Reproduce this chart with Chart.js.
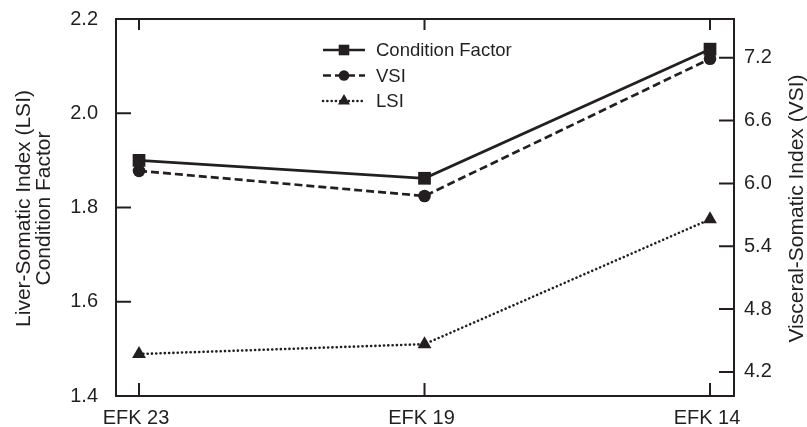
<!DOCTYPE html>
<html>
<head>
<meta charset="utf-8">
<script src="https://cdn.jsdelivr.net/npm/chart.js@4"></script>
<style>
  html, body { margin: 0; padding: 0; background: #fff; }
</style>
</head>
<body>
<canvas id="chart" width="807" height="427"></canvas>
<script>
// data
const categories = ["EFK 23", "EFK 19", "EFK 14"];
const conditionFactor = [1.90, 1.862, 2.136];
const vsi = [6.12, 5.88, 7.19];
const lsi = [1.489, 1.51, 1.775];
const leftTicks = [1.4, 1.6, 1.8, 2.0, 2.2];
const rightTicks = [4.2, 4.8, 5.4, 6.0, 6.6, 7.2];
const leftTitle = ["Liver-Somatic Index (LSI)", "Condition Factor"];
const rightTitle = "Visceral-Somatic Index (VSI)";

const ink = "#231f20";
const family = "'Liberation Sans', Arial, sans-serif";

function pts(values) {
  return values.map((v, i) => ({ x: i, y: v }));
}

// keep the plot box where the reference has it
function noPad(s) {
  s.paddingTop = 0;
  s.paddingBottom = 0;
  s.paddingLeft = 0;
  s.paddingRight = 0;
}

function drawMarker(ctx, style, x, y, r) {
  ctx.beginPath();
  if (style === "rect") {
    const s = r * Math.SQRT1_2;
    ctx.rect(x - s, y - s, 2 * s, 2 * s);
  } else if (style === "circle") {
    ctx.arc(x, y, r, 0, Math.PI * 2);
  } else {
    ctx.moveTo(x, y - r);
    ctx.lineTo(x + r * Math.sin(Math.PI / 3), y + r / 2);
    ctx.lineTo(x - r * Math.sin(Math.PI / 3), y + r / 2);
    ctx.closePath();
  }
  ctx.fill();
}

// frame, inward ticks, axis titles and the line+marker legend
const frameAndLegend = {
  id: "frameAndLegend",
  afterDraw(chart) {
    const ctx = chart.ctx;
    const a = chart.chartArea;
    ctx.save();
    ctx.strokeStyle = ink;
    ctx.lineWidth = 2;
    ctx.setLineDash([]);
    ctx.strokeRect(a.left, a.top, a.right - a.left, a.bottom - a.top);

    ctx.beginPath();
    const y = chart.scales.y;
    y.ticks.forEach((t) => {
      const p = y.getPixelForValue(t.value);
      ctx.moveTo(a.left, p);
      ctx.lineTo(a.left + 15, p);
    });
    const y1 = chart.scales.y1;
    y1.ticks.forEach((t) => {
      const p = y1.getPixelForValue(t.value);
      ctx.moveTo(a.right - 15, p);
      ctx.lineTo(a.right, p);
    });
    const x = chart.scales.x;
    x.ticks.forEach((t) => {
      const p = x.getPixelForValue(t.value);
      ctx.moveTo(p, a.bottom);
      ctx.lineTo(p, a.bottom - 13);
      ctx.moveTo(p, a.top);
      ctx.lineTo(p, a.top + 11);
    });
    ctx.stroke();

    // axis titles, both reading bottom to top
    const midY = (a.top + a.bottom) / 2 + 1;
    ctx.fillStyle = ink;
    ctx.font = "21px " + family;
    ctx.textAlign = "center";
    ctx.textBaseline = "middle";
    [[24, leftTitle[0]], [44, leftTitle[1]], [797, rightTitle]].forEach(([tx, txt]) => {
      ctx.save();
      ctx.translate(tx, midY);
      ctx.rotate(-Math.PI / 2);
      ctx.fillText(txt, 0, 0);
      ctx.restore();
    });

    // legend
    const x0 = 323, x1 = 365, xm = 344, xt = 376;
    const rows = [50, 75.5, 101];
    ctx.font = "18.5px " + family;
    ctx.textAlign = "left";
    chart.data.datasets.forEach((ds, i) => {
      const yy = rows[i];
      ctx.beginPath();
      ctx.lineWidth = ds.borderWidth;
      ctx.lineCap = ds.borderCapStyle || "butt";
      ctx.setLineDash(ds.borderDash || []);
      ctx.moveTo(x0, yy);
      ctx.lineTo(x1, yy);
      ctx.stroke();
      ctx.setLineDash([]);
      drawMarker(ctx, ds.pointStyle, xm, yy, ds.legendRadius);
      ctx.fillText(ds.label, xt, yy + 1);
    });
    ctx.restore();
  }
};

const ctx = document.getElementById("chart").getContext("2d");

const chart = new Chart(ctx, {
  type: "line",
  data: {
    datasets: [
      {
        label: "Condition Factor",
        data: pts(conditionFactor),
        yAxisID: "y",
        borderColor: ink,
        backgroundColor: ink,
        borderWidth: 2.7,
        pointStyle: "rect",
        pointRadius: 9,
        legendRadius: 7.5,
        pointBorderWidth: 0
      },
      {
        label: "VSI",
        data: pts(vsi),
        yAxisID: "y1",
        borderColor: ink,
        backgroundColor: ink,
        borderWidth: 2.7,
        borderDash: [8, 4],
        pointStyle: "circle",
        pointRadius: 6.3,
        legendRadius: 5.3,
        pointBorderWidth: 0
      },
      {
        label: "LSI",
        data: pts(lsi),
        yAxisID: "y",
        borderColor: ink,
        backgroundColor: ink,
        borderWidth: 2.6,
        borderDash: [0.1, 4.2],
        borderCapStyle: "round",
        pointStyle: "triangle",
        pointRadius: 8,
        legendRadius: 7,
        pointBorderWidth: 0
      }
    ]
  },
  options: {
    responsive: false,
    animation: false,
    devicePixelRatio: 1,
    layout: { padding: { top: 19, left: 0, right: 0, bottom: 0 } },
    plugins: {
      legend: { display: false },
      tooltip: { enabled: false }
    },
    scales: {
      x: {
        type: "linear",
        min: -0.0806,
        max: 2.084,
        afterBuildTicks: (s) => {
          s.ticks = categories.map((c, i) => ({ value: i }));
        },
        afterFit: (s) => { s.height = 31; noPad(s); },
        grid: { display: false, drawTicks: false },
        border: { display: false },
        ticks: {
          callback: (v) => categories[v],
          color: ink,
          font: { family: family, size: 20 },
          padding: 10,
          labelOffset: -3,
          maxRotation: 0,
          autoSkip: false
        }
      },
      y: {
        position: "left",
        min: 1.4,
        max: 2.2,
        afterBuildTicks: (s) => {
          s.ticks = leftTicks.map((v) => ({ value: v }));
        },
        afterFit: (s) => { s.width = 116; noPad(s); },
        grid: { display: false, drawTicks: false },
        border: { display: false },
        ticks: {
          callback: (v) => v.toFixed(1),
          color: ink,
          font: { family: family, size: 20 },
          padding: 18
        }
      },
      y1: {
        position: "right",
        min: 3.97,
        max: 7.57,
        afterBuildTicks: (s) => {
          s.ticks = rightTicks.map((v) => ({ value: v }));
        },
        afterFit: (s) => { s.width = 73; noPad(s); },
        grid: { display: false, drawTicks: false },
        border: { display: false },
        ticks: {
          callback: (v) => v.toFixed(1),
          color: ink,
          font: { family: family, size: 20 },
          padding: 10
        }
      }
    }
  },
  plugins: [frameAndLegend]
});
</script>
</body>
</html>
